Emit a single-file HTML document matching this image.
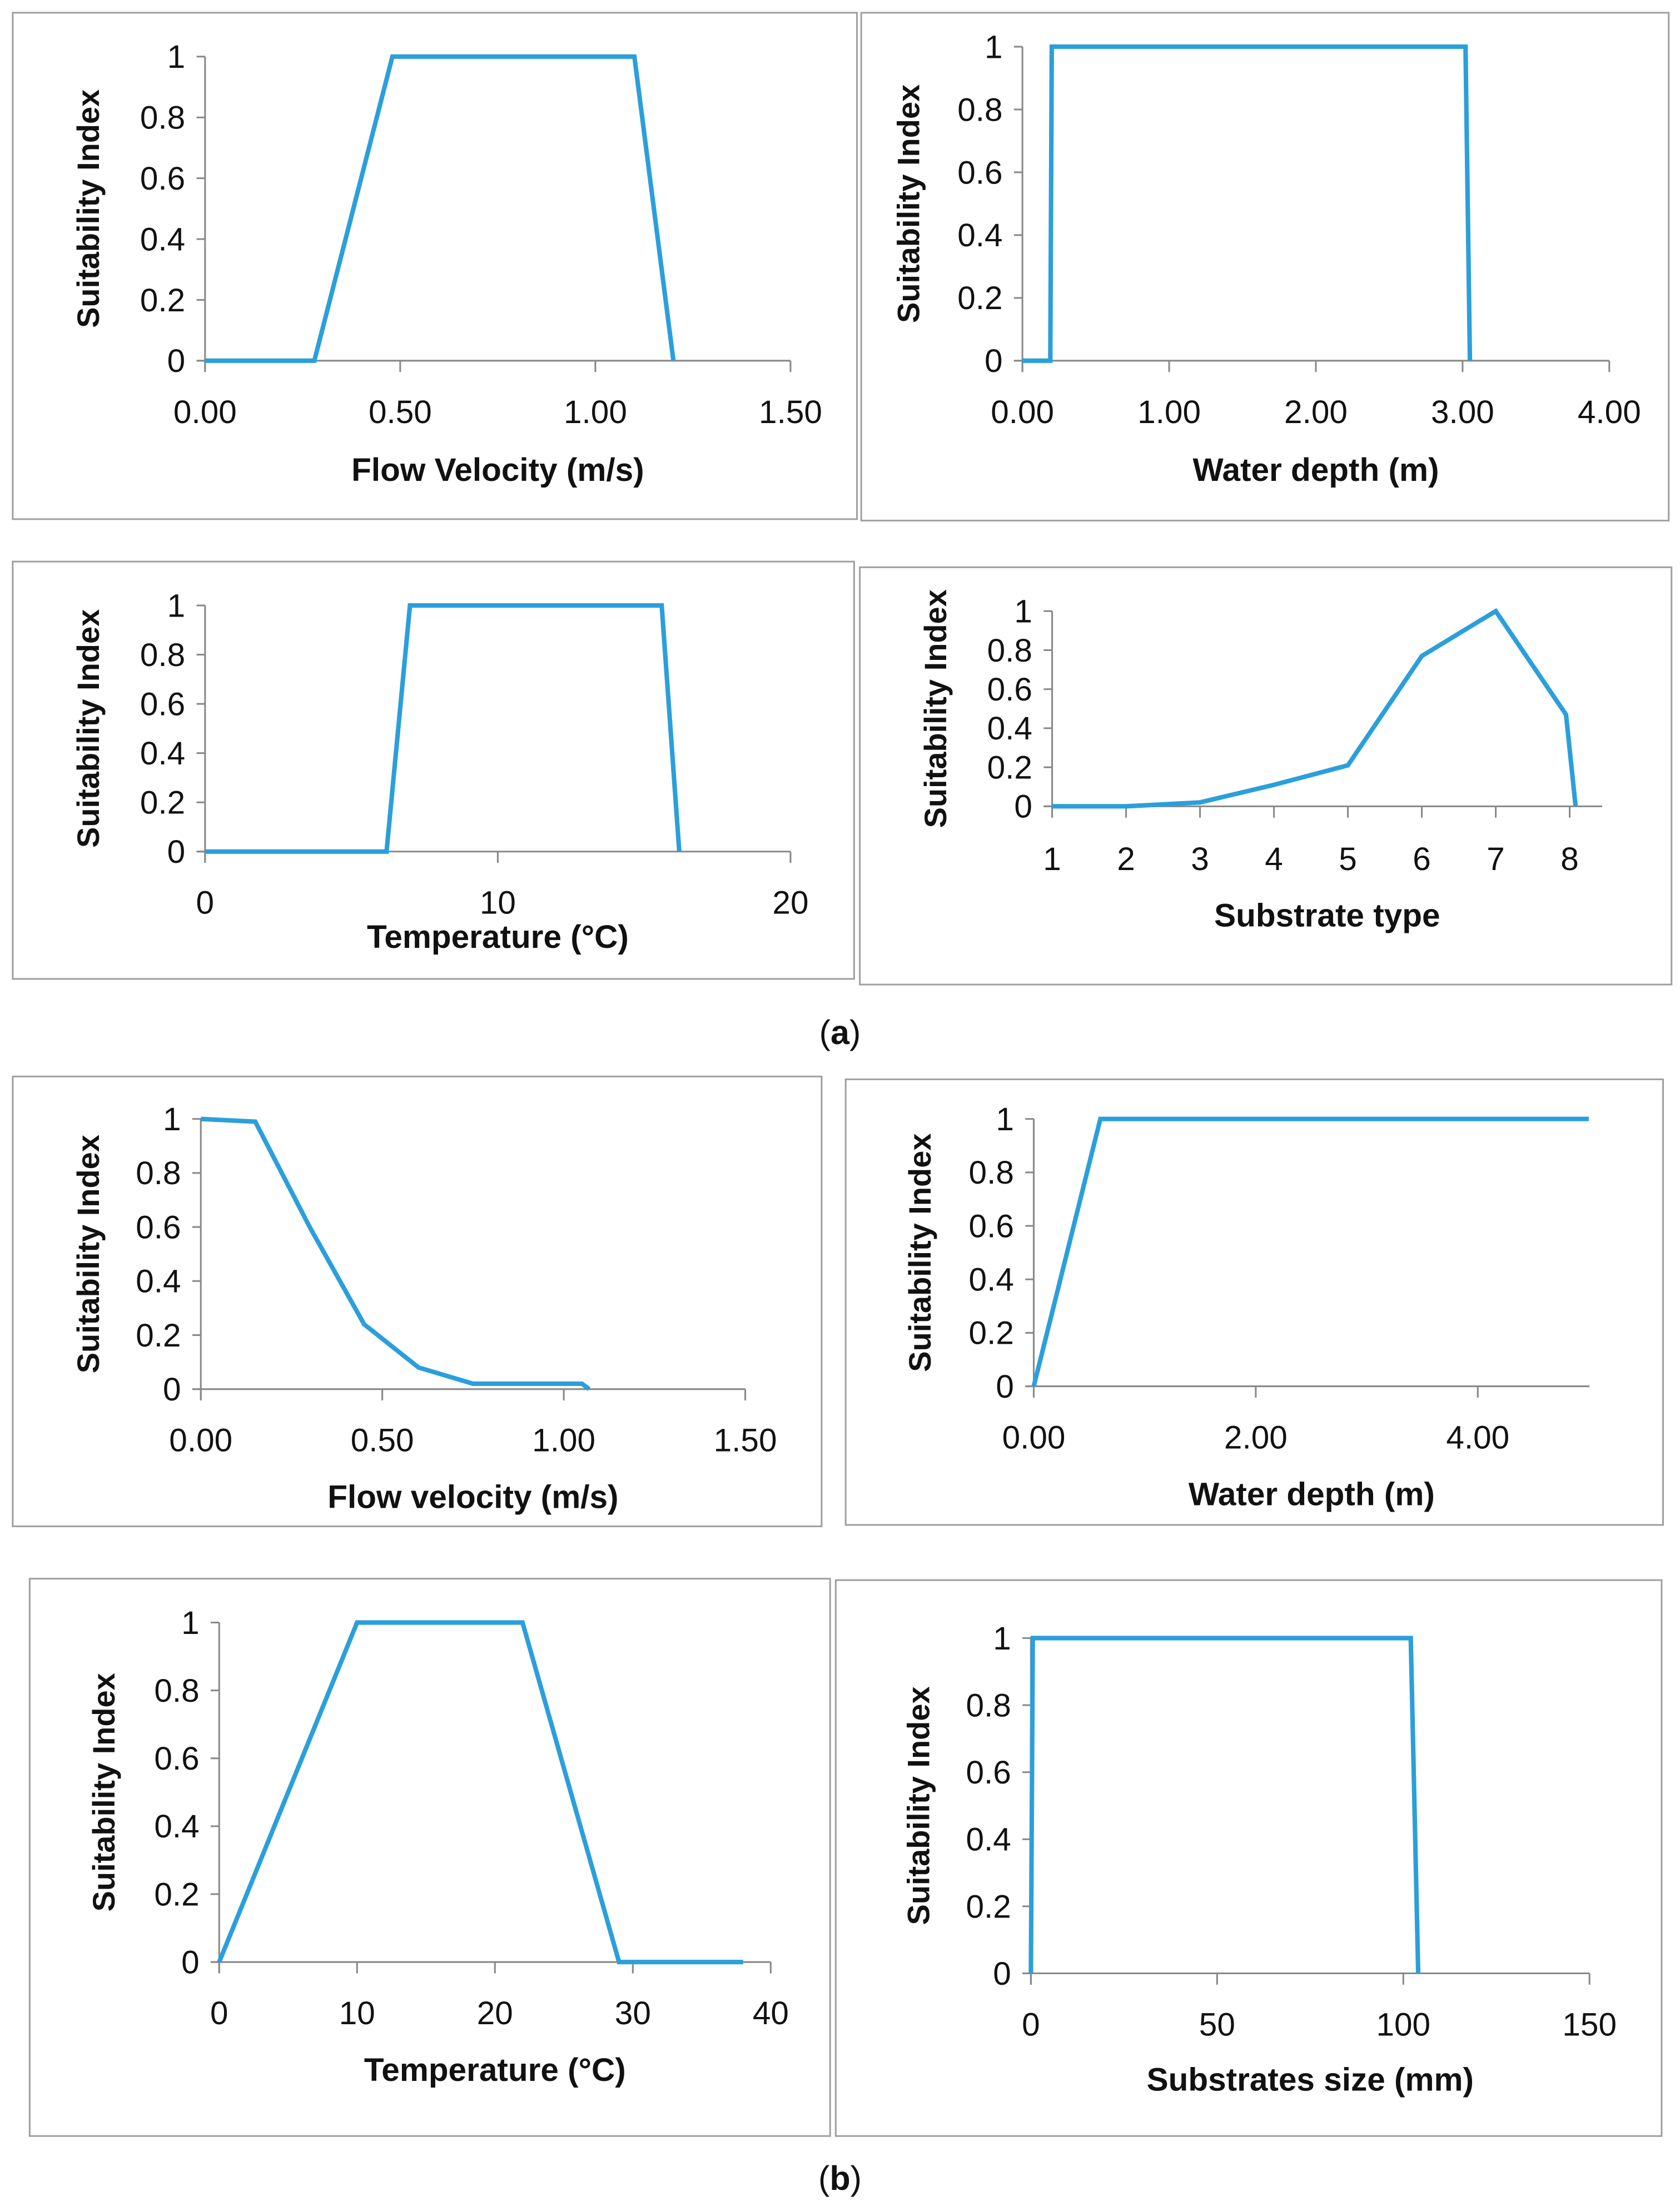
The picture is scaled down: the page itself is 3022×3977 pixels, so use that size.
<!DOCTYPE html>
<html><head><meta charset="utf-8"><style>
html,body{margin:0;padding:0;background:#fff;}
svg{display:block;}
text{font-family:"Liberation Sans",sans-serif;fill:#111;}
</style></head><body>
<svg id="fig" width="3022" height="3977" viewBox="0 0 1188 1563" preserveAspectRatio="none" xmlns="http://www.w3.org/2000/svg">
<rect x="0" y="0" width="1188" height="1563" fill="#fff"/>
<text x="594" y="738" text-anchor="middle" font-family="Liberation Serif" font-size="24">(<tspan font-weight="bold">a</tspan>)</text>
<text x="594" y="1548" text-anchor="middle" font-family="Liberation Serif" font-size="24">(<tspan font-weight="bold">b</tspan>)</text>
</svg>
<script>
// Data arrays
const p1X = [0, 0.28, 0.48, 1.10, 1.20];
const p1Y = [0, 0, 1, 1, 0];
const p1Ticks = ["0.00", "0.50", "1.00", "1.50"];
const p2X = [0, 0.19, 0.20, 3.02, 3.05];
const p2Y = [0, 0, 1, 1, 0];
const p2Ticks = ["0.00", "1.00", "2.00", "3.00", "4.00"];
const p3X = [0, 6.2, 7.0, 15.6, 16.2];
const p3Y = [0, 0, 1, 1, 0];
const p3Ticks = ["0", "10", "20"];
const p4X = [1, 2, 3, 4, 5, 6, 7, 7.95, 8.08];
const p4Y = [0, 0, 0.02, 0.11, 0.21, 0.77, 1, 0.47, 0];
const p4Ticks = ["1", "2", "3", "4", "5", "6", "7", "8"];
const p5X = [0, 0.15, 0.30, 0.45, 0.60, 0.75, 1.05, 1.07];
const p5Y = [1, 0.99, 0.60, 0.24, 0.08, 0.02, 0.02, 0];
const p5Ticks = ["0.00", "0.50", "1.00", "1.50"];
const p6X = [0, 0.6, 5];
const p6Y = [0, 1, 1];
const p6Ticks = ["0.00", "2.00", "4.00"];
const p7X = [0, 10, 22, 29, 38];
const p7Y = [0, 1, 1, 0, 0];
const p7Ticks = ["0", "10", "20", "30", "40"];
const p8X = [0, 0.5, 102, 104];
const p8Y = [0, 1, 1, 0];
const p8Ticks = ["0", "50", "100", "150"];
const yTicks = ["0", "0.2", "0.4", "0.6", "0.8", "1"];

const NS = "http://www.w3.org/2000/svg";
const svg = document.getElementById("fig");
function mk(tag, attrs, parent) {
  const e = document.createElementNS(NS, tag);
  for (const k in attrs) e.setAttribute(k, attrs[k]);
  (parent || svg).appendChild(e);
  return e;
}
const panels = [
  {id:"velocity-a", box:[9,9,597,358], x0:145, x1:559, xmin:0, xmax:1.5, tickVals:[0,0.5,1,1.5], y1:40, y0:255, xs:p1X, ys:p1Y, ticks:p1Ticks, ly:290, title:"Flow Velocity (m/s)", ty:332, yx:62, axEnd:559},
  {id:"depth-a", box:[609,9,571,359], x0:723, x1:1138, xmin:0, xmax:4, tickVals:[0,1,2,3,4], y1:33, y0:255, xs:p2X, ys:p2Y, ticks:p2Ticks, ly:290, title:"Water depth (m)", ty:332, yx:642, axEnd:1138},
  {id:"temperature-a", box:[9,397,595,295], x0:145, x1:559, xmin:0, xmax:20, tickVals:[0,10,20], y1:428, y0:602, xs:p3X, ys:p3Y, ticks:p3Ticks, ly:637, title:"Temperature (°C)", ty:662, yx:62, axEnd:559},
  {id:"substrate-a", box:[608,401,574,295], x0:744, x1:1110, xmin:1, xmax:8, tickVals:[1,2,3,4,5,6,7,8], y1:432, y0:570, xs:p4X, ys:p4Y, ticks:p4Ticks, ly:606, title:"Substrate type", ty:647, yx:661, axEnd:1133},
  {id:"velocity-b", box:[9,761,572,318], x0:142, x1:527, xmin:0, xmax:1.5, tickVals:[0,0.5,1,1.5], y1:791, y0:982, xs:p5X, ys:p5Y, ticks:p5Ticks, ly:1017, title:"Flow velocity (m/s)", ty:1058, yx:62, axEnd:527},
  {id:"depth-b", box:[598,763,578,315], x0:731, x1:1045, xmin:0, xmax:4, tickVals:[0,2,4], y1:791, y0:980, xs:p6X, ys:p6Y, ticks:p6Ticks, ly:1015, title:"Water depth (m)", ty:1056, yx:650, axEnd:1124},
  {id:"temperature-b", box:[21,1116,566,394], x0:155, x1:545, xmin:0, xmax:40, tickVals:[0,10,20,30,40], y1:1147, y0:1387, xs:p7X, ys:p7Y, ticks:p7Ticks, ly:1422, title:"Temperature (°C)", ty:1463, yx:73, axEnd:545},
  {id:"substrate-size-b", box:[591,1117,584,393], x0:729, x1:1124, xmin:0, xmax:150, tickVals:[0,50,100,150], y1:1158, y0:1395, xs:p8X, ys:p8Y, ticks:p8Ticks, ly:1430, title:"Substrates size (mm)", ty:1470, yx:649, axEnd:1124}
];
panels.forEach(p => {
  const g = mk("g", {});
  
  
  const b = mk("rect", {x:p.box[0], y:p.box[1], width:p.box[2], height:p.box[3], fill:"none", stroke:"#a0a0a0", "stroke-width":1.2}, g);
  
  
  const sx = v => p.x0 + (v - p.xmin) / (p.xmax - p.xmin) * (p.x1 - p.x0);
  const sy = v => p.y0 - v * (p.y0 - p.y1);
  const ya = mk("line", {x1:p.x0, y1:p.y1, x2:p.x0, y2:p.y0 + 8, stroke:"#888", "stroke-width":1.2}, g);
  
  
  yTicks.forEach((t, i) => {
    const v = i * 0.2, y = sy(v);
    mk("line", {x1:p.x0 - 6, y1:y, x2:p.x0, y2:y, stroke:"#888", "stroke-width":1.2}, g);
    const tx = mk("text", {x:p.x0 - 14, y:y + 8, "text-anchor":"end", "font-size":23}, g);
    
    
    tx.textContent = t;
  });
  const xa = mk("line", {x1:p.x0 - 6, y1:p.y0, x2:p.axEnd, y2:p.y0, stroke:"#888", "stroke-width":1.2}, g);
  
  
  p.ticks.forEach((t, i) => {
    const x = sx(p.tickVals[i]);
    mk("line", {x1:x, y1:p.y0, x2:x, y2:p.y0 + 8, stroke:"#888", "stroke-width":1.2}, g);
    const tx = mk("text", {x:x, y:p.ly + 9, "text-anchor":"middle", "font-size":23}, g);
    
    
    tx.textContent = t;
  });
  const xt = mk("text", {x:(p.x0 + p.axEnd) / 2, y:p.ty + 8, "text-anchor":"middle", "font-size":23, "font-weight":"bold"}, g);
  
  
  xt.textContent = p.title;
  const cy = (p.y0 + p.y1) / 2;
  const yt = mk("text", {x:p.yx, y:cy, "text-anchor":"middle", "font-size":22, "font-weight":"bold", "font-family":"DejaVu Sans", transform:"rotate(-90 " + p.yx + " " + cy + ") translate(0 8)"}, g);
  
  
  yt.textContent = "Suitability Index";
  const pts = p.xs.map((v, i) => sx(v).toFixed(2) + "," + sy(p.ys[i]).toFixed(2)).join(" ");
  const ln = mk("polyline", {points:pts, fill:"none", stroke:"#2b9fdb", "stroke-width":3.2, "stroke-linejoin":"miter"}, g);
  
  
});
</script>
</body></html>
